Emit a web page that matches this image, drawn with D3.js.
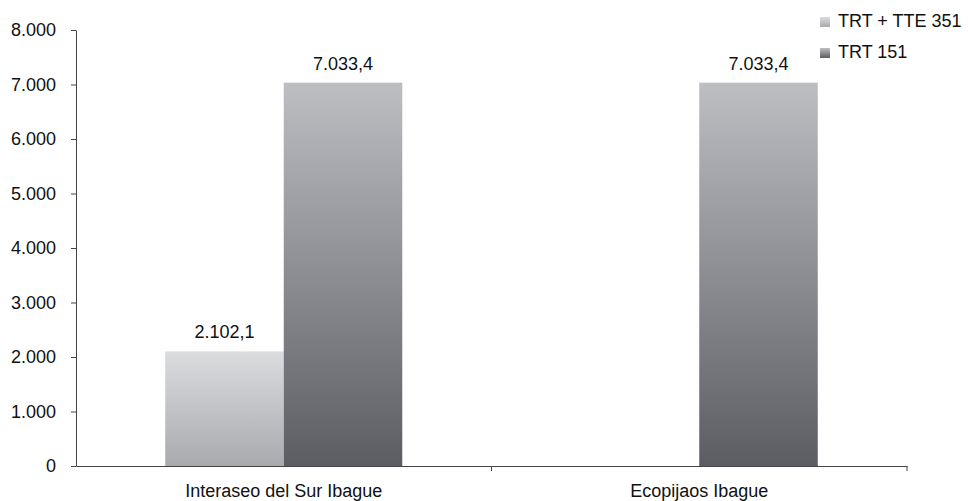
<!DOCTYPE html>
<html><head><meta charset="utf-8">
<script src="https://cdn.jsdelivr.net/npm/d3@7"></script>
<style>
body{margin:0;background:#fff;}
text{font-family:"Liberation Sans",Arial,sans-serif;}
</style>
</head><body>
<svg id="c" width="968" height="501"></svg>
<script>
const categories = ["Interaseo del Sur Ibague", "Ecopijaos Ibague"];
const seriesNames = ["TRT + TTE 351", "TRT 151"];
const trtTte351 = [2102.1, null];
const trt151 = [7033.4, 7033.4];
const yTickValues = [0, 1000, 2000, 3000, 4000, 5000, 6000, 7000, 8000];

const W = 968, H = 501;
const m = {left: 76, right: 61, top: 30, bottom: 35};
const svg = d3.select("#c");
const loc = d3.formatLocale({decimal: ",", thousands: ".", grouping: [3], currency: ["", ""]});
const fTick = loc.format(",.0f"), fVal = loc.format(",.1f");

const x = d3.scaleBand().domain(categories).range([m.left, W - m.right]).padding(0);
const xs = d3.scaleBand().domain(seriesNames).range([0, x.bandwidth()]).paddingInner(0).paddingOuter(0.753);
const y = d3.scaleLinear().domain([0, 8000]).range([H - m.bottom, m.top]);

const defs = svg.append("defs");
const grads = [["g0", "#dbdcde", "#a8aaae"], ["g1", "#bcbec2", "#5b5d62"]];
grads.forEach(([id, c1, c2]) => {
  const g = defs.append("linearGradient").attr("id", id).attr("x1", 0).attr("y1", 0).attr("x2", 0).attr("y2", 1);
  g.append("stop").attr("offset", "0%").attr("stop-color", c1);
  g.append("stop").attr("offset", "100%").attr("stop-color", c2);
});

const series = [trtTte351, trt151];
series.forEach((vals, si) => {
  categories.forEach((cat, ci) => {
    const v = vals[ci];
    if (v == null) return;
    const bx = x(cat) + xs(seriesNames[si]);
    svg.append("rect").attr("x", bx).attr("y", y(v)).attr("width", xs.bandwidth())
      .attr("height", y(0) - y(v)).attr("fill", `url(#g${si})`);
    svg.append("text").attr("x", bx + xs.bandwidth() / 2).attr("y", y(v) - 13)
      .attr("text-anchor", "middle").attr("font-size", 18).attr("fill", "#111").text(fVal(v));
  });
});

// y axis
const ya = svg.append("g").attr("transform", `translate(${m.left},0)`)
  .call(d3.axisLeft(y).tickValues(yTickValues).tickFormat(fTick).tickSize(5).tickSizeOuter(0).tickPadding(15));
ya.selectAll("text").attr("font-size", 18).attr("fill", "#111").attr("font-family", '"Liberation Sans",Arial,sans-serif');
ya.selectAll("line,path").attr("stroke", "#444");

// x axis
const xa = svg.append("g").attr("transform", `translate(0,${y(0)})`)
  .call(d3.axisBottom(x).tickSize(0).tickSizeOuter(0).tickPadding(18));
xa.selectAll("text").attr("font-size", 18).attr("fill", "#111").attr("font-family", '"Liberation Sans",Arial,sans-serif');
xa.selectAll("path").attr("stroke", "#444");
const bounds = categories.map(c => x(c) + x.bandwidth());
svg.append("g").selectAll("line").data(bounds).join("line")
  .attr("x1", d => d).attr("x2", d => d).attr("y1", y(0)).attr("y2", y(0) + 5).attr("stroke", "#444");

// legend
const lg = svg.append("g");
seriesNames.forEach((s, i) => {
  const ly = 21 + i * 31;
  lg.append("rect").attr("x", 820).attr("y", ly - 4).attr("width", 10).attr("height", 10).attr("fill", `url(#g${i})`);
  lg.append("text").attr("x", 838).attr("y", ly).attr("dy", "0.35em").attr("font-size", 18).attr("fill", "#111").text(s);
});
</script>
</body></html>
